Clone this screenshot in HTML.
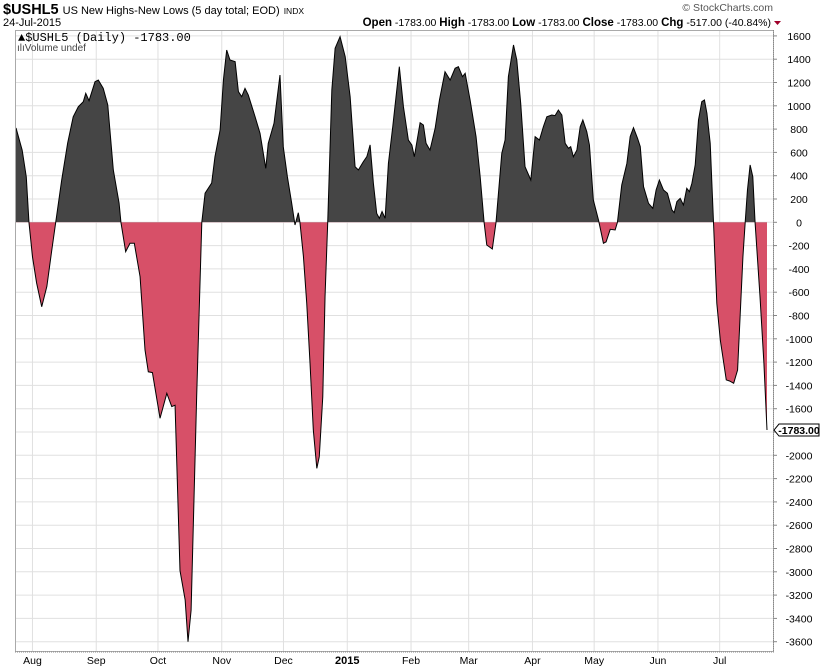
<!DOCTYPE html>
<html><head><meta charset="utf-8"><style>
body{margin:0;background:#fff;width:820px;height:668px;overflow:hidden;font-family:"Liberation Sans",sans-serif}
svg{display:block}
</style></head><body>
<svg id="c" width="820" height="668" font-family="Liberation Sans, sans-serif">
<text x="3" y="14" font-size="14.5" font-weight="bold">$USHL5 <tspan font-size="11" font-weight="normal">US New Highs-New Lows (5 day total; EOD)</tspan> <tspan font-size="8.5" font-weight="normal">INDX</tspan></text>
<text x="3" y="26" font-size="11">24-Jul-2015</text>
<text x="773" y="11" font-size="10.5" fill="#555" text-anchor="end">© StockCharts.com</text>
<text x="771" y="26" font-size="10.5" text-anchor="end"><tspan font-weight="bold" font-size="11.5">Open</tspan> -1783.00 <tspan font-weight="bold" font-size="11.5">High</tspan> -1783.00 <tspan font-weight="bold" font-size="11.5">Low</tspan> -1783.00 <tspan font-weight="bold" font-size="11.5">Close</tspan> -1783.00 <tspan font-weight="bold" font-size="11.5">Chg</tspan> -517.00 (-40.84%)</text>
<path d="M774 21 L781 21 L777.5 25 Z" fill="#a0002a"/>
<g id="grid"></g>
<g id="series"></g>
<rect x="15.5" y="30.5" width="758" height="621" fill="none" stroke="#aaa"/>
<line x1="15" y1="652" x2="774" y2="652" stroke="#888" stroke-dasharray="1,1"/>
<line x1="773.5" y1="30" x2="773.5" y2="652" stroke="#888" stroke-dasharray="1,1"/>
<g id="axes"></g>
<text x="18" y="41" font-size="12" font-family="Liberation Mono, monospace">▲$USHL5 (Daily) -1783.00</text>
<text x="17" y="51" font-size="10" fill="#444">ılıVolume undef</text>
</svg>
<script>
const days=[0,3,5,6.3,8,10,12.5,15,17.4,19.3,22.2,25.1,27.8,30.3,32.7,33.9,35.5,38.4,40,42.4,44.6,47.3,50.1,51,53.3,55.4,57.5,60.3,62.7,64.3,66.3,70,73.3,75.7,77.3,79.7,82.2,83.6,85.1,87.8,90.3,91.9,95.1,96.7,99.2,100.8,102.4,104,106.5,108.1,109.7,111.3,112.9,116.2,118.6,121.4,122.6,125.4,127,128.3,129.9,131.9,134,135.6,137.2,138,139.7,141.3,142.9,144.5,146.2,147.4,149.1,150.2,151.5,153.5,155.1,157.5,160,162.4,164.8,166.4,168.8,170.5,172.1,173.7,175.3,176.6,177.9,179.4,181,183.1,186.3,188.3,190.7,192.4,193.6,196.4,198,199.3,201.2,203.7,205.8,208.5,211,213.4,215,217,218.3,220.7,223.6,225.6,227.5,228.8,231.5,233.3,236.1,237.7,239.3,241.8,243.4,245.3,247.4,250.2,252.3,254.4,256.3,258,260.4,262,263.6,265.3,266.9,268.5,269.6,270.9,272.6,274.2,275.5,277.4,278.7,280.6,283.1,285.5,286.8,288.8,291.2,292.3,294.4,296.9,298.5,300.1,302.1,303.4,305,307.4,309.5,311.1,312.7,314.7,316.6,318.8,319.9,321.2,322.8,324.4,326,327.3,328.5,330.1,331.7,333.3,334.6,335.8,337.4,339,340.6,342.3,345.2,346.8,348.8,350.7,352,353.3,354.4,355.5,356.8,358.1,359.2,361.6,363.5,365];
const values=[810,620,390,0,-295,-520,-725,-550,-238,0,363,680,906,992,1035,1107,1044,1207,1221,1150,1007,449,165,0,-252,-180,-180,-467,-1096,-1283,-1290,-1682,-1468,-1582,-1570,-2990,-3240,-3600,-3330,-1500,0,250,337,563,792,1221,1479,1393,1379,1121,1078,1150,1092,906,764,463,678,850,1078,1264,649,391,163,-23,82,0,-295,-695,-1210,-1783,-2112,-2012,-1497,-638,0,1136,1494,1593,1421,1078,477,449,520,563,664,335,77,34,92,34,506,820,1336,992,706,663,563,855,835,678,620,806,1050,1293,1221,1322,1336,1250,1279,1050,735,391,0,-195,-229,0,592,706,1250,1522,1393,1021,477,363,735,706,820,906,921,916,964,921,678,635,649,563,620,820,878,778,664,191,20,-180,-168,-60,-66,0,320,506,735,812,720,650,306,163,120,277,363,277,249,106,83,177,206,149,292,263,335,492,878,1035,1050,935,678,0,-695,-1010,-1353,-1362,-1382,-1268,-781,-295,0,277,492,391,0,-638,-1210,-1783];
const yTicks=[1600,1400,1200,1000,800,600,400,200,0,-200,-400,-600,-800,-1000,-1200,-1400,-1600,-1800,-2000,-2200,-2400,-2600,-2800,-3000,-3200,-3400,-3600];
const monthLabels=["Aug","Sep","Oct","Nov","Dec","2015","Feb","Mar","Apr","May","Jun","Jul"];
const monthDays=[8,39,69,100,130,161,192,220,251,281,312,342];
const lastLabel="-1783.00";

const NS="http://www.w3.org/2000/svg";
const xS=d=>16+d*(751/365);
const yS=v=>222.3-v*(23.3/200);
function mk(t,a,p){const e=document.createElementNS(NS,t);for(const k in a)e.setAttribute(k,a[k]);p.appendChild(e);return e;}
const grid=document.getElementById('grid'),ser=document.getElementById('series'),axes=document.getElementById('axes');
yTicks.forEach(v=>{
 const l=mk('line',{x1:15,x2:773,y1:yS(v),y2:yS(v),stroke:'#e0e0e0'},grid);
 
 
 mk('line',{x1:773,x2:777,y1:yS(v),y2:yS(v),stroke:'#888'},axes);
 const t=mk('text',{x:799,y:yS(v)+4,'font-size':10.5,'text-anchor':'middle'},axes);
 t.textContent=v;
 
 
});
monthLabels.forEach((m,i)=>{
 const x=xS(monthDays[i]);
 const l=mk('line',{x1:x,x2:x,y1:30,y2:652,stroke:'#e0e0e0'},grid);
 
 
 const t=mk('text',{x:x,y:664,'font-size':m==='2015'?11:10.5,'font-weight':m==='2015'?'bold':'normal','text-anchor':'middle'},axes);
 t.textContent=m;
 
 
});
const y0=yS(0);
let pts=days.map((d,i)=>xS(d).toFixed(2)+','+yS(values[i]).toFixed(2));
const area='M'+xS(days[0])+','+y0+' L'+pts.join(' L')+' L'+xS(days[days.length-1])+','+y0+' Z';
const defs=mk('defs',{},ser);
const c1=mk('clipPath',{id:'above'},defs);mk('rect',{x:0,y:0,width:820,height:y0},c1);
const c2=mk('clipPath',{id:'below'},defs);mk('rect',{x:0,y:y0,width:820,height:668},c2);
const a1=mk('path',{d:area,fill:'#454545','clip-path':'url(#above)'},ser);


const a2=mk('path',{d:area,fill:'#d75068','clip-path':'url(#below)'},ser);


const ln=mk('path',{d:'M'+pts.join(' L'),fill:'none',stroke:'#000','stroke-width':1},ser);


const ly=yS(values[values.length-1]);
const tag=mk('path',{d:`M774,${ly} L779,${ly-6} L819,${ly-6} L819,${ly+6} L779,${ly+6} Z`,fill:'#fff',stroke:'#000'},axes);


const tt=mk('text',{x:799,y:ly+4,'font-size':10.5,'font-weight':'bold','text-anchor':'middle'},axes);
tt.textContent=lastLabel;


</script>
</body></html>
